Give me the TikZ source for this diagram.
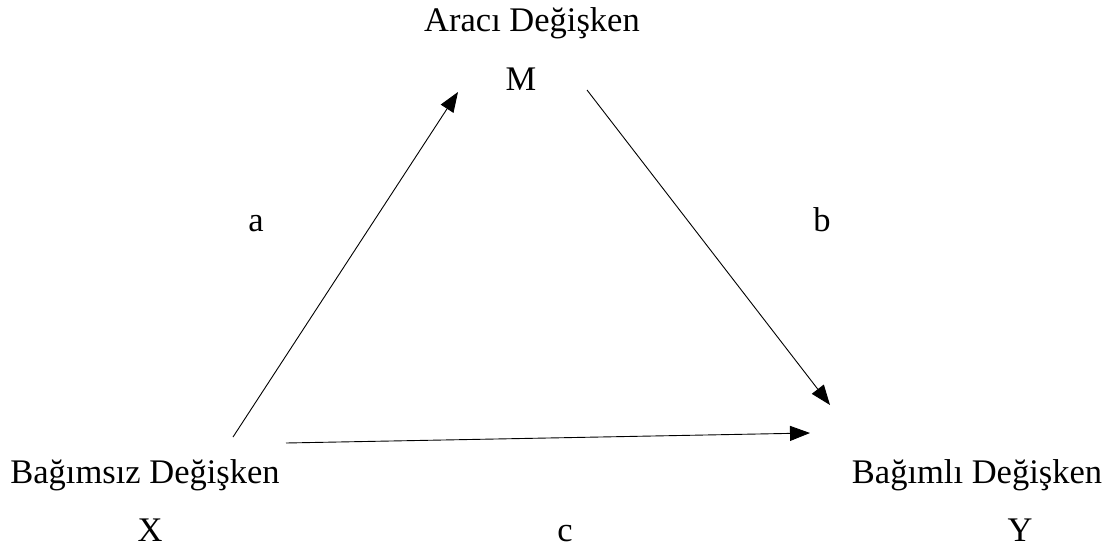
\documentclass[tikz,border=0pt]{standalone}
\usepackage{fontspec}
\setmainfont{Liberation Serif}
\usetikzlibrary{arrows.meta}
\begin{document}
\begin{tikzpicture}[x=1pt,y=-1pt,
  lbl/.style={anchor=base,inner sep=0pt,font=\fontsize{34.5}{40}\selectfont},
  arr/.style={line width=0.9pt,-{Triangle[length=20pt,width=15pt]}}]
\useasboundingbox (0,0) rectangle (1107,551);
\node[lbl] (med) at (532,32) {Aracı Değişken};
\node[lbl] (m) at (521,90) {M};
\node[lbl] (a) at (256,231) {a};
\node[lbl] (b) at (822,231) {b};
\node[lbl] (x) at (145,483) {Bağımsız Değişken};
\node[lbl] (xl) at (150,541) {X};
\node[lbl] (c) at (565,541) {c};
\node[lbl] (y) at (977,483) {Bağımlı Değişken};
\node[lbl] (yl) at (1020,541) {Y};
\coordinate (xs) at (233,437);
\coordinate (me) at (458,92);
\coordinate (ms) at (587,90);
\coordinate (ye) at (830,405);
\coordinate (xc) at (286,443);
\coordinate (yc) at (810,433);
\draw[arr] (xs) -- (me);
\draw[arr] (ms) -- (ye);
\draw[arr] (xc) -- (yc);
\end{tikzpicture}
\end{document}
